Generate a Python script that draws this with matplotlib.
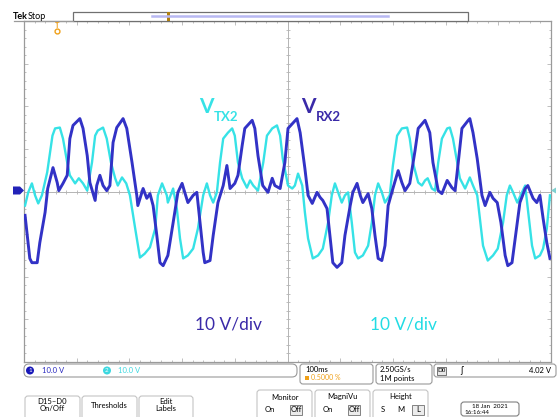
import numpy as np
import matplotlib.pyplot as plt
from matplotlib.patches import FancyBboxPatch, Rectangle, Circle, Polygon

W, H = 557, 417

# channel 1: V_RX2, time in ms (100 ms/div), volts (10 V/div)
rx2_t = [-498, -489, -485, -475, -470, -460, -455, -445, -437, -434, -426, -418,
         -413, -407, -394, -388, -380, -375, -365, -362, -356, -350, -343, -337,
         -331, -324, -312, -305, -295, -286, -284, -274, -267, -261, -255, -248,
         -242, -236, -227, -217, -208, -200, -195, -189, -179, -172, -166, -160,
         -157, -147, -141, -132, -122, -115, -109, -100, -94, -86, -81, -67,
         -62, -56, -47, -37, -29, -24, -14, -5, 1, 10, 18, 24,
         33, 39, 47, 56, 62, 67, 75, 81, 86, 94, 103, 109,
         119, 124, 132, 138, 143, 153, 160, 166, 172, 179, 185, 191,
         200, 210, 217, 223, 232, 242, 248, 261, 270, 276, 286, 293,
         303, 312, 318, 324, 331, 343, 346, 352, 360, 369, 375, 384,
         390, 398, 405, 413, 418, 426, 432, 441, 451, 456, 466, 473,
         479, 485, 492, 498]
rx2_v = [-5.6, -15.7, -16.7, -16.7, -12.0, -4.9, 0.7, 5.6, 2.1, 0.2, 1.9, 3.8,
         12.4, 15.5, 17.1, 14.8, 8.4, 2.1, -2.1, 1.4, 3.8, 1.4, 0.2, 1.4,
         11.5, 15.0, 17.1, 14.8, 6.8, -0.9, -3.3, 0.7, -1.6, -0.5, -3.3, -10.3,
         -16.7, -17.4, -15.0, -7.3, -0.2, 1.9, -0.2, -2.6, -0.9, -0.2, -7.3, -14.3,
         -16.7, -16.2, -10.3, -2.6, 1.4, 6.1, 0.7, 1.9, 3.8, 10.8, 14.8, 16.7,
         14.8, 8.4, 1.4, -0.2, 3.1, 1.4, 0.7, 6.8, 14.8, 16.0, 17.1, 13.8,
         5.4, -0.9, -2.8, -0.2, -1.4, -2.1, -4.0, -11.0, -16.7, -17.8, -16.7, -10.3,
         -3.3, -0.2, 1.9, -0.9, -2.6, -0.5, -4.0, -10.3, -15.7, -16.2, -12.7, -3.3,
         0.7, 4.9, 2.1, 0.2, 1.9, 9.6, 14.8, 16.7, 13.8, 6.8, 0.2, -0.5,
         2.6, 0.9, 0.2, 6.8, 14.8, 16.7, 17.1, 13.8, 7.7, -0.9, -3.3, -0.2,
         -1.6, -2.6, -7.3, -15.0, -17.4, -16.7, -11.0, -2.6, 0.7, 1.4, -1.6, -2.6,
         -0.9, -6.3, -12.0, -15.7]

# channel 2: V_TX2
tx2_t = [-498, -492, -485, -479, -473, -466, -456, -446, -441, -432, -426, -418,
         -413, -403, -396, -388, -380, -371, -365, -360, -350, -343, -335, -327,
         -322, -314, -306, -299, -289, -280, -271, -261, -251, -246, -238, -229,
         -227, -217, -210, -204, -198, -189, -179, -170, -160, -153, -147, -141,
         -134, -128, -122, -113, -105, -100, -94, -86, -77, -71, -65, -56,
         -46, -39, -29, -20, -14, -9, 1, 9, 14, 20, 28, 33,
         39, 48, 58, 67, 77, 84, 90, 96, 103, 109, 115, 122,
         128, 134, 143, 153, 160, 166, 172, 179, 185, 194, 200, 208,
         217, 227, 232, 238, 248, 255, 261, 266, 274, 280, 286, 293,
         303, 308, 314, 322, 327, 337, 346, 352, 360, 365, 371, 380,
         390, 399, 409, 416, 422, 428, 436, 445, 451, 456, 464, 470,
         479, 485, 492, 498]
tx2_v = [-3.3, -0.2, 1.9, -0.9, -2.8, -0.9, 4.5, 13.1, 14.8, 15.0, 12.4, 6.8,
         3.8, 1.9, 3.1, 1.9, 0.2, 6.8, 13.1, 14.3, 15.0, 12.4, 6.8, 3.1,
         1.4, 3.3, 1.9, -0.9, -8.7, -15.5, -14.6, -13.1, -8.7, -0.9, 1.9, -0.9,
         -2.6, 0.7, -4.0, -11.0, -15.7, -15.0, -13.4, -8.7, -0.9, 1.9, -0.9, -2.6,
         -0.2, 6.8, 12.4, 13.8, 14.8, 13.1, 6.8, 3.1, 0.9, 2.6, 1.4, 0.2,
         6.8, 13.1, 14.8, 15.5, 13.1, 7.7, 1.4, 0.7, 1.4, 4.2, 1.4, -4.9,
         -11.0, -15.7, -15.0, -13.4, -7.3, -0.9, 1.9, -0.2, -2.6, -0.9, -0.2, -7.3,
         -14.3, -15.7, -15.0, -12.7, -7.3, -0.9, 1.9, -0.2, -2.6, -0.9, 6.1, 13.1,
         14.8, 15.0, 12.4, 6.8, 2.1, 1.4, 2.6, 3.1, 0.7, 0.2, 6.8, 12.4,
         14.8, 15.0, 12.4, 6.8, 3.1, 0.7, 3.3, 1.4, -0.9, -6.3, -12.7, -16.2,
         -15.0, -13.4, -7.3, -0.9, 1.4, -0.2, -2.6, -0.2, 1.4, -4.0, -12.7, -15.7,
         -15.0, -13.4, -8.7, -0.9]

CH1 = '#3232c6'
CH2 = '#36e2e6'
GRID = '#b4b4b4'
FRAME = '#9a9a9a'

plt.rcParams['font.family'] = ['Lato', 'DejaVu Sans']

fig = plt.figure(figsize=(W / 100, H / 100), dpi=100)
fig.patch.set_facecolor('white')

# graticule
x0, x1, y0, y1 = 24, 551, 21, 362
ax = fig.add_axes([x0 / W, 1 - y1 / H, (x1 - x0) / W, (y1 - y0) / H])
ax.set_xlim(-500, 500)
ax.set_ylim(-40, 40)
ax.set_xticks(np.arange(-500, 501, 100))
ax.set_yticks(np.arange(-40, 41, 10))
ax.set_xticks(np.arange(-500, 501, 20), minor=True)
ax.set_yticks(np.arange(-40, 41, 2), minor=True)
ax.tick_params(which='both', direction='in', top=True, right=True,
               labelbottom=False, labelleft=False, color=GRID, width=0.6)
ax.tick_params(which='major', length=3)
ax.tick_params(which='minor', length=1.5)
for s in ax.spines.values():
    s.set_color(FRAME)
    s.set_linewidth(0.9)

ax.axhline(0, color=GRID, lw=0.7, zorder=1)
ax.axvline(0, color=GRID, lw=0.7, zorder=1)
ticks_t = np.arange(-500, 501, 20)
ticks_v = np.arange(-40, 41, 2)
ax.plot(ticks_t, np.zeros_like(ticks_t), ls='none', marker='|', ms=3, mew=0.6, color=GRID, zorder=1)
ax.plot(np.zeros_like(ticks_v), ticks_v, ls='none', marker='_', ms=3, mew=0.6, color=GRID, zorder=1)

ax.plot(tx2_t, tx2_v, color=CH2, lw=1.7, zorder=3, solid_joinstyle='round')
ax.plot(rx2_t, rx2_v, color=CH1, lw=2.1, zorder=4, solid_joinstyle='round')

# screen furniture in pixel coordinates
d = fig.add_axes([0, 0, 1, 1], zorder=5)
d.set_xlim(0, W)
d.set_ylim(H, 0)
d.axis('off')
d.patch.set_alpha(0)

d.text(13, 16, 'Tek', fontsize=6.5, fontweight='bold', va='center')
d.text(28, 16, 'Stop', fontsize=6.5, va='center')
d.plot([14, 73], [21, 21], color=FRAME, lw=0.9)
d.add_patch(Rectangle((73, 12), 395, 9, fc='white', ec='#707070', lw=0.9))
d.plot([152, 388], [15.5, 15.5], color='#b8b8f2', lw=1.8)
d.add_patch(Rectangle((166.5, 12), 3, 9, fc='#b08010', ec='none'))
d.text(57, 25, 'T', color='#f0a018', fontsize=5.5, fontweight='bold', ha='center', va='center')
d.plot([57], [31], marker='o', ms=3.5, mfc='none', mec='#f0a018', mew=1)

d.add_patch(Polygon([(13, 186.5), (20, 186.5), (24, 190.5), (20, 194.5), (13, 194.5)], fc='#2222b8', ec='none'))
d.add_patch(Polygon([(556, 187.5), (551, 190.5), (556, 193.5)], fc='#7fd0d0', ec='none'))

# trace labels
d.text(199, 113, 'V', color=CH2, fontsize=15, fontweight='bold')
d.text(214, 121, 'TX2', color=CH2, fontsize=9.5, fontweight='bold')
d.text(301, 113, 'V', color='#3a2aa8', fontsize=15, fontweight='bold')
d.text(316, 121, 'RX2', color='#3a2aa8', fontsize=9.5, fontweight='bold')
d.text(195, 330, '10 V/div', color='#3a2aa8', fontsize=12.5)
d.text(370, 330, '10 V/div', color='#22dce4', fontsize=12.5)


def box(x, y, w, h, r=3, ec=FRAME):
    d.add_patch(FancyBboxPatch((x, y), w, h, boxstyle=f'round,pad=0,rounding_size={r}',
                               fc='white', ec=ec, lw=0.8))


# status bar
box(24, 364, 273, 13, r=5)
d.add_patch(Circle((30, 370.5), 4, fc='#1818b8', ec='none'))
d.text(30, 370.5, '1', color='white', fontsize=4.5, ha='center', va='center')
d.text(42, 370.5, '10.0 V', color='#2a2ac0', fontsize=5.5, va='center')
d.add_patch(Circle((107, 370.5), 4, fc='#3cd8e0', ec='none'))
d.text(107, 370.5, '2', color='white', fontsize=4.5, ha='center', va='center')
d.text(118, 370.5, '10.0 V', color='#40d8e0', fontsize=5.5, va='center')

box(300, 364, 73, 20)
d.text(305, 370, '100ms', fontsize=5.5, va='center')
d.add_patch(Rectangle((305, 376), 4, 4, fc='#f0a018', ec='none'))
d.text(311, 378, '0.5000 %', color='#f0a018', fontsize=5, va='center')

box(376, 364, 56, 20)
d.text(380, 370, '2.50GS/s', fontsize=5.5, va='center')
d.text(380, 378, '1M points', fontsize=5.5, va='center')

box(434, 364, 122, 13)
d.add_patch(Rectangle((437, 366.5), 9, 8, fc='#e8e8e8', ec='#606060', lw=0.6))
d.text(441.5, 370.5, 'D0', fontsize=4.5, ha='center', va='center')
d.text(462, 370.5, '\u0283', fontsize=6, ha='center', va='center', family='DejaVu Sans')
d.text(551, 370.5, '4.02 V', fontsize=5.5, ha='right', va='center')

# soft buttons
for bx, bw, label in [(25, 55, 'D15\u2013D0\nOn/Off'), (82, 55, 'Thresholds'),
                      (139, 54, 'Edit\nLabels')]:
    box(bx, 396, bw, 24, r=3, ec='#c4c4c4')
    d.text(bx + bw / 2, 405, label, fontsize=5.5, ha='center', va='center', linespacing=1.1)

for bx, title, opts, sel in [(257, 'Monitor', ['On', 'Off'], 1),
                             (315, 'MagniVu', ['On', 'Off'], 1),
                             (373, 'Height', ['S', 'M', 'L'], 2)]:
    box(bx, 390, 55, 30, r=3, ec='#c4c4c4')
    d.text(bx + 27.5, 397, title, fontsize=5.5, ha='center', va='center')
    n = len(opts)
    xs = [bx + 13, bx + 39] if n == 2 else [bx + 10, bx + 27.5, bx + 45]
    for i, (ox, o) in enumerate(zip(xs, opts)):
        if i == sel:
            d.add_patch(Rectangle((ox - 6, 405), 12, 10, fc='#ececec', ec='#707070', lw=0.6))
        d.text(ox, 410, o, fontsize=5.5, ha='center', va='center')

box(461, 402, 58, 14, r=3, ec='#808080')
d.text(490, 406.5, '18 Jan  2021', fontsize=4.5, ha='center', va='center')
d.text(464, 412.5, '16:16:44', fontsize=4.5, va='center')

fig.savefig('out.png', dpi=100, facecolor='white')
